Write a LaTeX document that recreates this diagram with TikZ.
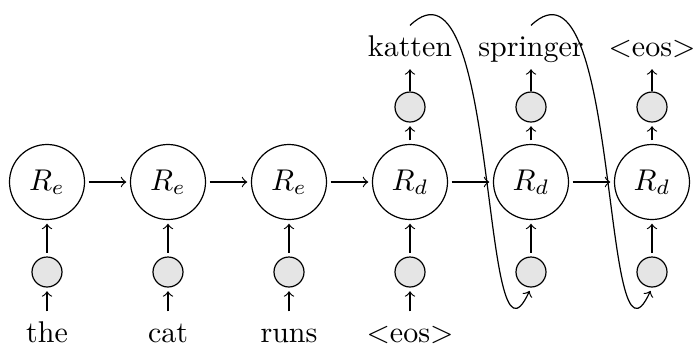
\documentclass[tikz,border=0pt]{standalone}
\begin{document}
\begin{tikzpicture}[x=0.3333pt,y=-0.3333pt,line width=0.4pt,
  rnn/.style={draw,circle,inner sep=0pt,minimum size=25pt},
  emb/.style={draw,circle,inner sep=0pt,minimum size=10pt,fill=black!10},
  word/.style={inner xsep=0pt,inner ysep=3pt,text height=7pt,text depth=0pt,anchor=base},
  arr/.style={->,shorten <=1.2pt,shorten >=1.2pt},
  feed/.style={->,shorten >=1.2pt}]
\useasboundingbox (0,0) rectangle (696,345);
% recurrent units
\node[rnn] (r1) at (47,182) {$R_e$};
\node[rnn] (r2) at (168,182) {$R_e$};
\node[rnn] (r3) at (289,182) {$R_e$};
\node[rnn] (r4) at (410,182) {$R_d$};
\node[rnn] (r5) at (531,182) {$R_d$};
\node[rnn] (r6) at (652,182) {$R_d$};
% input embeddings
\node[emb] (b1) at (47,272) {};
\node[emb] (b2) at (168,272) {};
\node[emb] (b3) at (289,272) {};
\node[emb] (b4) at (410,272) {};
\node[emb] (b5) at (531,272) {};
\node[emb] (b6) at (652,272) {};
% output embeddings
\node[emb] (t4) at (410,107) {};
\node[emb] (t5) at (531,107) {};
\node[emb] (t6) at (652,107) {};
% input words
\node[word] (w1) at (47,342) {the};
\node[word] (w2) at (168,342) {cat};
\node[word] (w3) at (289,342) {runs};
\node[word] (w4) at (410,342) {$<$eos$>$};
% output words
\node[word] (o4) at (410,56) {katten};
\node[word] (o5) at (531,56) {springer};
\node[word] (o6) at (652,56) {$<$eos$>$};
% horizontal connections
\draw[arr] (r1) -- (r2);
\draw[arr] (r2) -- (r3);
\draw[arr] (r3) -- (r4);
\draw[arr] (r4) -- (r5);
\draw[arr] (r5) -- (r6);
% inputs
\foreach \i in {1,...,4}{\draw[feed] (w\i.north) -- (b\i.south);}
\foreach \i in {1,...,6}{\draw[arr] (b\i) -- (r\i);}
% outputs
\foreach \i in {4,5,6}{\draw[arr] (r\i) -- (t\i); \draw[feed] (t\i.north) -- (o\i.south);}
% feedback of outputs
\draw[feed] (o4.north) .. controls +(90,-86) and +(-51,112) .. (b5.south);
\draw[feed] (o5.north) .. controls +(90,-86) and +(-51,112) .. (b6.south);
\end{tikzpicture}
\end{document}
